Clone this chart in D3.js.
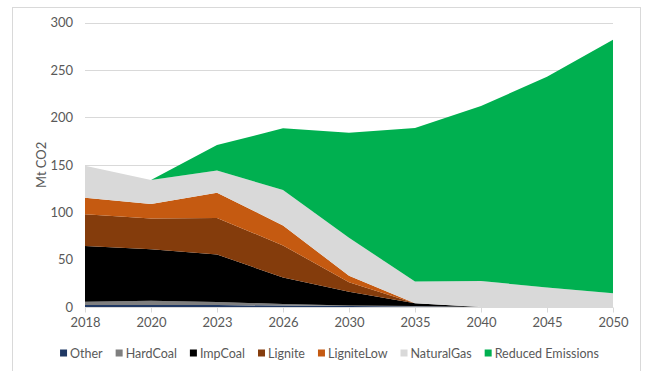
<!DOCTYPE html>
<html>
<head>
<meta charset="utf-8">
<script src="https://cdn.jsdelivr.net/npm/d3@7"></script>
<style>
  html, body { margin: 0; padding: 0; background: #fff; }
  svg { display: block; font-family: Lato, "Liberation Sans", sans-serif; }
</style>
</head>
<body>
<svg id="chart" width="645" height="371"></svg>
<script>
// Emission pathway, Mt CO2 per source
const years = ["2018", "2020", "2023", "2026", "2030", "2035", "2040", "2045", "2050"];
const seriesNames = ["Other", "HardCoal", "ImpCoal", "Lignite", "LigniteLow", "NaturalGas", "Reduced Emissions"];
const other       = [2.0, 2.0, 2.0, 1.5, 1.0, 0.5, 0, 0, 0];
const hardCoal    = [3.6, 4.6, 3.3, 1.7, 0.5, 0.5, 0, 0, 0];
const impCoal     = [58.7, 54.4, 50.2, 27.8, 14.5, 3.0, 0, 0, 0];
const lignite     = [33.5, 32.5, 38.5, 34.0, 10.0, 0, 0, 0, 0];
const ligniteLow  = [17.5, 15.1, 26.6, 21.0, 7.0, 0, 0, 0, 0];
const naturalGas  = [33.7, 25.4, 23.4, 37.5, 40.0, 23.0, 27.5, 20.5, 14.5];
const reduced     = [0, 0, 27.0, 65.0, 111.0, 162.0, 184.5, 222.5, 267.5];
const yTicks = [0, 50, 100, 150, 200, 250, 300];
const colors = ["#1f3864", "#7f7f7f", "#000000", "#843c0c", "#c55a11", "#d9d9d9", "#00b050"];

const valueArrays = [other, hardCoal, impCoal, lignite, ligniteLow, naturalGas, reduced];
const table = years.map((y, i) => {
  const row = { year: y };
  seriesNames.forEach((s, k) => { row[s] = valueArrays[k][i]; });
  return row;
});

const svg = d3.select("#chart");
const plot = { left: 85, right: 613, top: 22.7, bottom: 307 };

// outer chart frame
svg.append("rect")
  .attr("x", 12.5).attr("y", 7.5)
  .attr("width", 628).attr("height", 380)
  .attr("fill", "#fff").attr("stroke", "#d9d9d9").attr("stroke-width", 1);

const x = d3.scalePoint().domain(years).range([plot.left, plot.right]);
const y = d3.scaleLinear().domain([0, 300]).range([plot.bottom, plot.top]);

// horizontal gridlines
svg.append("g")
  .selectAll("line")
  .data(yTicks.filter(t => t > 0))
  .join("line")
  .attr("x1", plot.left).attr("x2", plot.right)
  .attr("y1", d => Math.round(y(d)) + 0.5).attr("y2", d => Math.round(y(d)) + 0.5)
  .attr("stroke", "#d9d9d9").attr("stroke-width", 1);

// stacked areas
const stack = d3.stack().keys(seriesNames);
const layers = stack(table);
const area = d3.area()
  .x(d => x(d.data.year))
  .y0(d => y(d[0]))
  .y1(d => y(d[1]));

svg.append("g")
  .selectAll("path")
  .data(layers)
  .join("path")
  .attr("d", area)
  .attr("fill", (d, i) => colors[i]);

// x axis baseline and ticks
const xAxis = d3.axisBottom(x).tickSize(5).tickPadding(5);
const gx = svg.append("g")
  .attr("transform", `translate(0,${plot.bottom + 0.5})`)
  .call(xAxis);
gx.select(".domain").attr("stroke", "#d9d9d9").attr("d", `M${plot.left},0H${plot.right}`);
gx.selectAll(".tick line").attr("stroke", "#d9d9d9");
gx.selectAll(".tick text")
  .attr("fill", "#595959").attr("font-size", 13)
  .attr("font-family", "Lato, 'Liberation Sans', sans-serif");

// y axis labels
const yAxis = d3.axisLeft(y).tickValues(yTicks).tickSize(0).tickPadding(12);
const gy = svg.append("g")
  .attr("transform", `translate(${plot.left},0)`)
  .call(yAxis);
gy.select(".domain").remove();
gy.selectAll(".tick text")
  .attr("fill", "#595959").attr("font-size", 13)
  .attr("font-family", "Lato, 'Liberation Sans', sans-serif");

// y axis title
svg.append("text")
  .attr("transform", `translate(41,${(plot.top + plot.bottom) / 2}) rotate(-90)`)
  .attr("text-anchor", "middle")
  .attr("dominant-baseline", "central")
  .attr("fill", "#595959").attr("font-size", 13)
  .text("Mt CO2");

// legend
const legend = svg.append("g");
const items = legend.selectAll("g")
  .data(seriesNames)
  .join("g");
items.append("rect")
  .attr("width", 7).attr("height", 7)
  .attr("y", -3.5)
  .attr("fill", (d, i) => colors[i]);
items.append("text")
  .attr("x", 10)
  .attr("dominant-baseline", "central")
  .attr("fill", "#595959").attr("font-size", 12.5)
  .text(d => d);

const gap = 13;
const widths = [];
items.each(function () {
  widths.push(10 + this.querySelector("text").getComputedTextLength());
});
const total = d3.sum(widths) + gap * (widths.length - 1);
let cx = 329.5 - total / 2;
items.attr("transform", (d, i) => {
  const tx = cx;
  cx += widths[i] + gap;
  return `translate(${tx},353)`;
});
</script>
</body>
</html>
